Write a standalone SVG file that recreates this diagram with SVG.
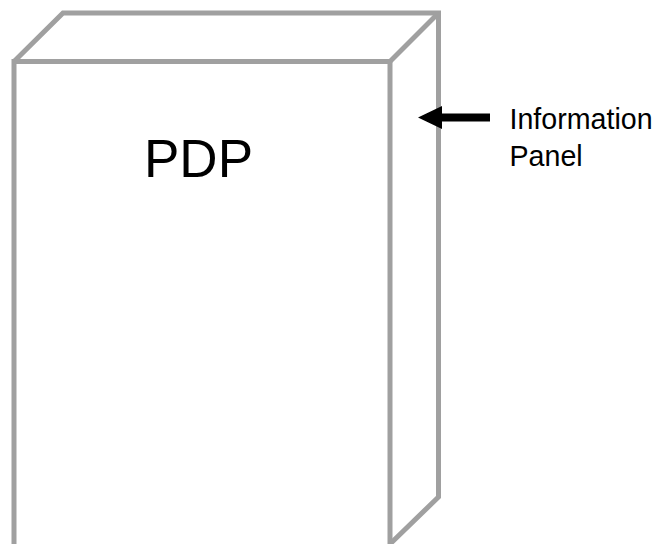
<svg xmlns="http://www.w3.org/2000/svg" width="657" height="544" viewBox="0 0 657 544">
<style>
.edge{fill:none;stroke:#a0a0a0;stroke-width:5;stroke-linejoin:miter}
.t{font-family:"Liberation Sans",Arial,sans-serif;fill:#000}
</style>
<rect width="657" height="544" fill="#fff"/>
<g id="pdp-box">
<path class="edge" d="M14 548V61.5H390V546"/>
<path class="edge" d="M14 61.5L63 13H438.5V497L390 544"/>
<path class="edge" d="M390 61.5L438.5 13"/>
<text class="t" x="144" y="177" font-size="53">PDP</text>
</g>
<g id="information-panel">
<text class="t" x="509.500" y="129" font-size="28.600">Information</text>
<text class="t" x="509.500" y="166" font-size="28.600">Panel</text>
</g>
<g id="connectors">
<path d="M490 113.500H442V106L418 117.500L442 129V121.500H490Z" fill="#000"/>
</g>
</svg>
